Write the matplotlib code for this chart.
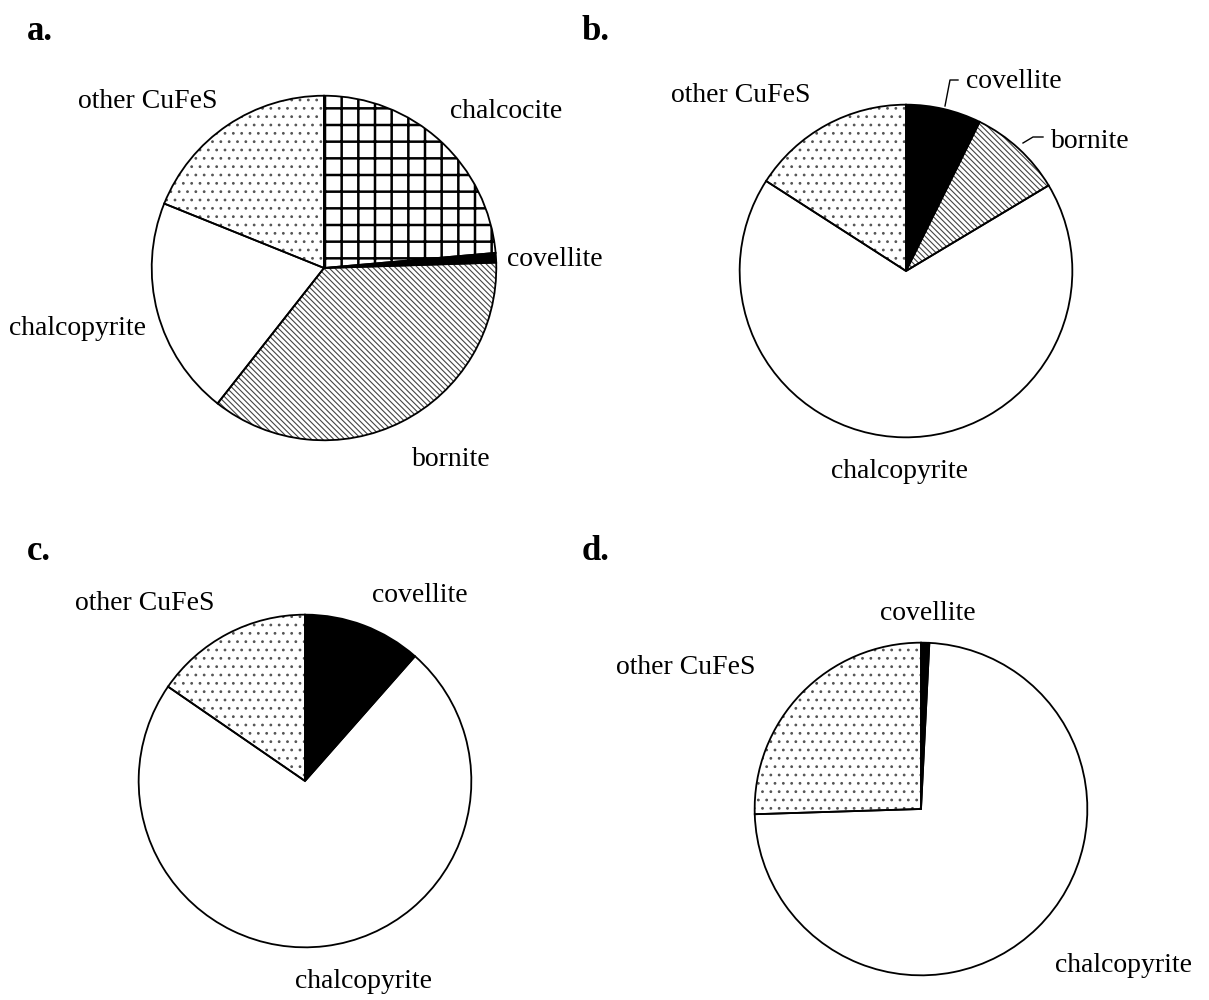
import matplotlib.pyplot as plt
from matplotlib.lines import Line2D

plt.rcParams['font.family'] = ['Liberation Serif', 'DejaVu Serif']
plt.rcParams['hatch.linewidth'] = 0.8

W, H = 1209, 1000

# ---- data (percent of Cu minerals) -------------------------------------
labels_a = ['chalcocite', 'covellite', 'bornite', 'chalcopyrite', 'other CuFeS']
values_a = [23.6, 0.9, 36.1, 20.5, 18.9]

labels_b = ['covellite', 'bornite', 'chalcopyrite', 'other CuFeS']
values_b = [7.3, 9.1, 67.7, 15.9]

labels_c = ['covellite', 'chalcopyrite', 'other CuFeS']
values_c = [11.5, 73.1, 15.4]

labels_d = ['covellite', 'chalcopyrite', 'other CuFeS']
values_d = [0.8, 73.7, 25.5]

# fill style per mineral: (facecolor, hatch, hatch colour, hatch width)
style = {
    'chalcocite':   ('white', '+', 'black', 1.8),
    'covellite':    ('black', '', 'black', 0.8),
    'bornite':      ('white', '\\\\\\\\\\\\', '#444444', 0.8),
    'chalcopyrite': ('white', '', 'black', 0.8),
    'other CuFeS':  ('white', '..', '#555555', 0.8),
}

fig = plt.figure(figsize=(W / 100, H / 100), dpi=100)


def px(x, y):
    return x / W, 1 - y / H


def draw_pie(cx, cy, r, labels, values):
    ax = fig.add_axes([(cx - r) / W, 1 - (cy + r) / H, 2 * r / W, 2 * r / H])
    wedges, _ = ax.pie(values, startangle=90, counterclock=False, radius=1.0,
                       wedgeprops=dict(linewidth=0))
    for w, name in zip(wedges, labels):
        fc, hatch, hc, hw = style[name]
        w.set_facecolor(fc)
        w.set_edgecolor(hc)
        if hatch:
            w.set_hatch(hatch)
            if hasattr(w, 'set_hatch_linewidth'):
                w.set_hatch_linewidth(hw)
    # black outlines on top of the hatched wedges
    ax.pie(values, startangle=90, counterclock=False, radius=1.0,
           wedgeprops=dict(facecolor='none', edgecolor='black', linewidth=1.3))
    ax.set_xlim(-1.01, 1.01)
    ax.set_ylim(-1.01, 1.01)
    ax.set_aspect('auto')
    ax.axis('off')
    return ax


draw_pie(324, 268, 174, labels_a, values_a)
draw_pie(906, 271, 168, labels_b, values_b)
draw_pie(305, 781, 168, labels_c, values_c)
draw_pie(921, 809, 168, labels_d, values_d)

# panel letters
for letter, (x, y) in zip(['a.', 'b.', 'c.', 'd.'],
                          [(27, 40), (582, 40), (27, 560), (582, 560)]):
    fig.text(*px(x, y), letter, fontsize=25, fontweight='bold',
             ha='left', va='baseline')

# slice labels
txt = [
    ('other CuFeS', 148, 101), ('chalcocite', 506, 112), ('covellite', 555, 260),
    ('chalcopyrite', 78, 328), ('bornite', 451, 459),
    ('other CuFeS', 741, 96), ('covellite', 1014, 81), ('bornite', 1090, 142),
    ('chalcopyrite', 899, 471),
    ('other CuFeS', 145, 604), ('covellite', 420, 596), ('chalcopyrite', 363, 981),
    ('covellite', 928, 613), ('other CuFeS', 686, 668), ('chalcopyrite', 1123, 966),
]
for s, x, y in txt:
    fig.text(*px(x, y), s, fontsize=20, ha='center', va='center')

# leader lines in panel b
for xs, ys in [([945, 950, 958], [106, 80, 80]),
               ([1023, 1033, 1043], [143, 137, 137])]:
    fx = [x / W for x in xs]
    fy = [1 - y / H for y in ys]
    fig.add_artist(Line2D(fx, fy, color='black', linewidth=1.0,
                          transform=fig.transFigure))

plt.savefig('out.png', dpi=100, facecolor='white')
